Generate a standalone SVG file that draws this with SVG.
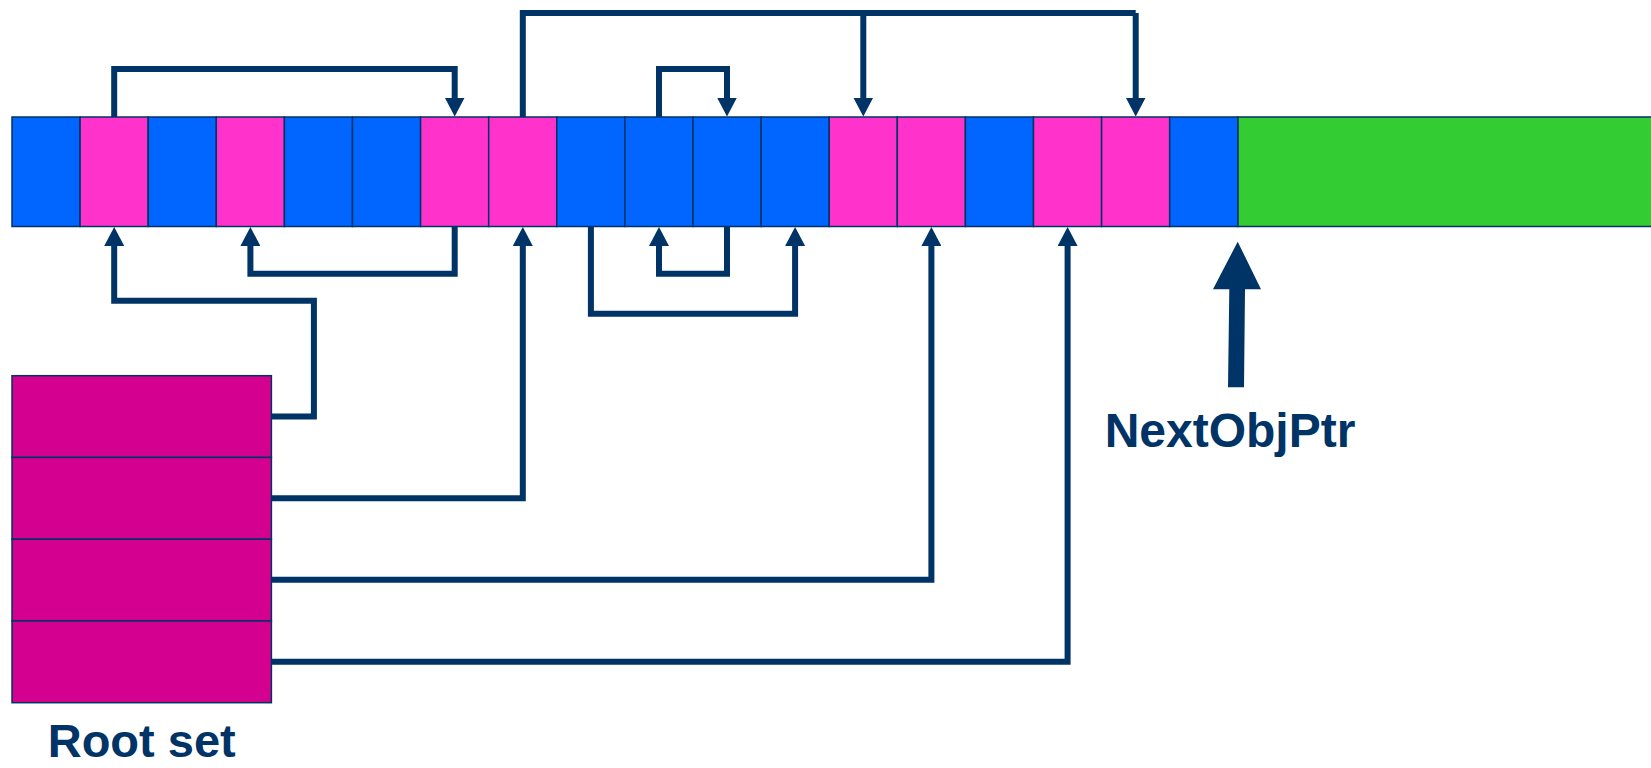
<svg xmlns="http://www.w3.org/2000/svg" width="1651" height="768" viewBox="0 0 1651 768">
<style>
.b{fill:#0066FF;stroke:#003366;stroke-width:1.5}
.p{fill:#FF33CC;stroke:#003366;stroke-width:1.5}
.g{fill:#33CC33;stroke:#003366;stroke-width:1.5}
.r{fill:#D4008F;stroke:#003366;stroke-width:1.5}
.c{fill:none;stroke:#003366;stroke-width:6;stroke-linejoin:miter;marker-end:url(#ah)}
.n{fill:none;stroke:#003366;stroke-width:6;stroke-linejoin:miter}
.t{font-family:"Liberation Sans",Arial,sans-serif;font-weight:bold;font-size:48px;fill:#003366;text-anchor:middle}
</style>
<defs>
<marker id="ah" viewBox="0 0 19 20" markerWidth="19" markerHeight="20" markerUnits="userSpaceOnUse" refX="0.5" refY="10" orient="auto">
<path d="M0,0 L19,10 L0,20 z" fill="#003366"/>
</marker>
</defs>
<g id="heap">
<rect class="g" x="1237.8" y="117" width="420" height="109.5"/>
<rect class="b" x="12" y="117" width="68.1" height="109.5"/>
<rect class="p" x="80.1" y="117" width="68.1" height="109.5"/>
<rect class="b" x="148.2" y="117" width="68.1" height="109.5"/>
<rect class="p" x="216.3" y="117" width="68.1" height="109.5"/>
<rect class="b" x="284.4" y="117" width="68.1" height="109.5"/>
<rect class="b" x="352.5" y="117" width="68.1" height="109.5"/>
<rect class="p" x="420.6" y="117" width="68.1" height="109.5"/>
<rect class="p" x="488.7" y="117" width="68.1" height="109.5"/>
<rect class="b" x="556.8" y="117" width="68.1" height="109.5"/>
<rect class="b" x="624.9" y="117" width="68.1" height="109.5"/>
<rect class="b" x="693" y="117" width="68.1" height="109.5"/>
<rect class="b" x="761.1" y="117" width="68.1" height="109.5"/>
<rect class="p" x="829.2" y="117" width="68.1" height="109.5"/>
<rect class="p" x="897.3" y="117" width="68.1" height="109.5"/>
<rect class="b" x="965.4" y="117" width="68.1" height="109.5"/>
<rect class="p" x="1033.5" y="117" width="68.1" height="109.5"/>
<rect class="p" x="1101.6" y="117" width="68.1" height="109.5"/>
<rect class="b" x="1169.7" y="117" width="68.1" height="109.5"/>
</g>
<g id="rootset">
<rect class="r" x="12" y="375.7" width="259.4" height="81.75"/>
<rect class="r" x="12" y="457.45" width="259.4" height="81.75"/>
<rect class="r" x="12" y="539.2" width="259.4" height="81.75"/>
<rect class="r" x="12" y="620.95" width="259.4" height="81.75"/>
<text class="t" x="141.7" y="757" style="font-size:47px">Root set</text>
</g>
<g id="nextobjptr">
<polygon points="1237.7,241.7 1261,289.3 1245,289.3 1244,387.3 1228,387.3 1229.3,289.3 1213,289.3" fill="#003366"/>
<text class="t" x="1230" y="446.5">NextObjPtr</text>
</g>
<g id="connectors">
<path class="c" d="M114.2,117 V69 H454.7 V98"/>
<path class="n" d="M522.8,117 V13 H1135.7"/>
<path class="c" d="M1135.7,13 V98"/>
<path class="c" d="M863.3,13 V98"/>
<path class="c" d="M659,117 V69 H727 V98"/>
<path class="c" d="M454.7,226.5 V273.7 H250.4 V245.5"/>
<path class="c" d="M727,226.5 V273.7 H659 V245.5"/>
<path class="c" d="M590.9,226.5 V313.7 H795.1 V245.5"/>
<path class="c" d="M271.4,416.5 H313.9 V300.8 H114.2 V245.5"/>
<path class="c" d="M271.4,498.3 H522.8 V245.5"/>
<path class="c" d="M271.4,579.8 H931.4 V245.5"/>
<path class="c" d="M271.4,661.7 H1067.6 V245.5"/>
</g>
</svg>
